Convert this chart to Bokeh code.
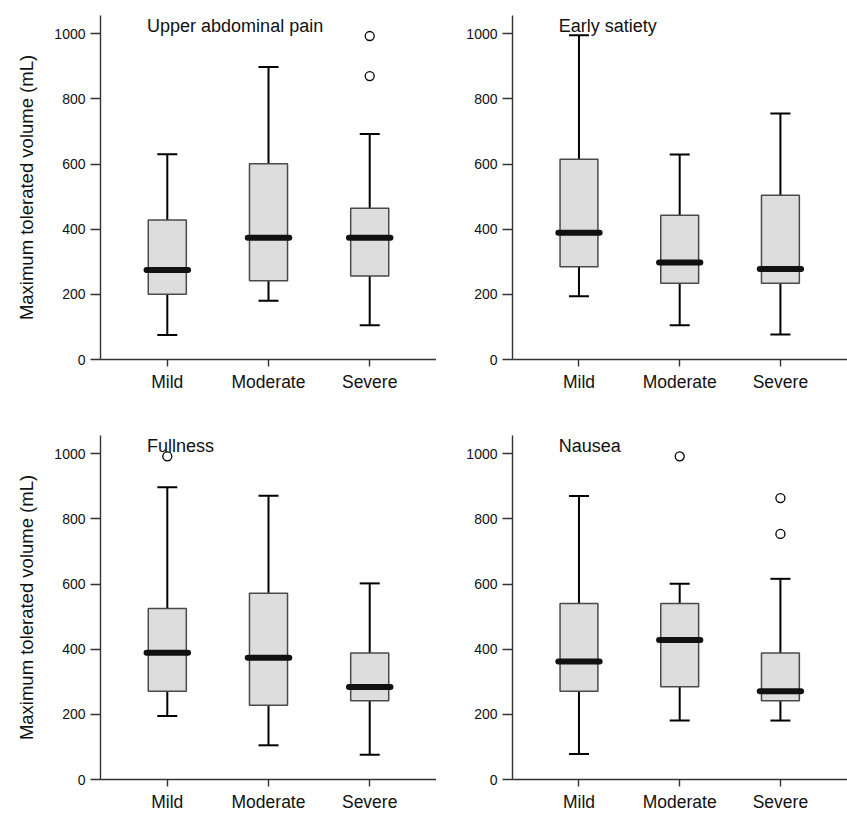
from bokeh.plotting import figure
from bokeh.layouts import column, row
from bokeh.models import Label, FixedTicker, Range1d
from bokeh.embed import file_html
from bokeh.resources import INLINE

categories = ["Mild", "Moderate", "Severe"]
y_ticks = [0, 200, 400, 600, 800, 1000]
y_label = "Maximum tolerated volume (mL)"

# Upper abdominal pain
pain_low = [75, 180, 105]
pain_q1 = [200, 242, 256]
pain_med = [275, 374, 374]
pain_q3 = [428, 601, 464]
pain_high = [630, 898, 692]
pain_out_cat = ["Severe", "Severe"]
pain_out_val = [993, 870]

# Early satiety
sat_low = [194, 105, 77]
sat_q1 = [285, 234, 234]
sat_med = [389, 298, 278]
sat_q3 = [615, 443, 504]
sat_high = [995, 629, 755]
sat_out_cat = []
sat_out_val = []

# Fullness
full_low = [195, 105, 76]
full_q1 = [271, 228, 242]
full_med = [389, 374, 284]
full_q3 = [525, 572, 388]
full_high = [897, 871, 602]
full_out_cat = ["Mild"]
full_out_val = [992]

# Nausea
nau_low = [78, 181, 181]
nau_q1 = [271, 285, 242]
nau_med = [362, 428, 271]
nau_q3 = [540, 540, 388]
nau_high = [870, 601, 616]
nau_out_cat = ["Moderate", "Severe", "Severe"]
nau_out_val = [992, 864, 754]

FONT = "Liberation Sans"
AXIS_COLOR = "#333333"


def make_panel(title, low, q1, med, q3, high, out_cat, out_val,
               left_panel, top_row):
    if left_panel:
        width, border_left, x_end = 436, 100, 2.66
    else:
        width, border_left, x_end = 411, 76, 2.666
    if top_row:
        height, border_top, border_bottom = 416, 15, 57
    else:
        height, border_top, border_bottom = 399, 19, 36

    p = figure(width=width, height=height, output_backend="svg",
               toolbar_location=None,
               x_range=Range1d(-0.66, x_end), y_range=Range1d(0, 1056),
               min_border_left=border_left, min_border_right=0,
               min_border_top=border_top, min_border_bottom=border_bottom)
    p.outline_line_color = None
    p.xgrid.visible = False
    p.ygrid.visible = False
    p.background_fill_color = "white"
    p.border_fill_color = "white"

    xs = list(range(len(categories)))
    half_med = 0.205
    # whiskers
    p.segment(x0=xs, y0=q3, x1=xs, y1=high, line_color="black", line_width=2)
    p.segment(x0=xs, y0=q1, x1=xs, y1=low, line_color="black", line_width=2)
    p.scatter(x=xs, y=high, marker="dash", size=20, line_color="black",
              line_width=2)
    p.scatter(x=xs, y=low, marker="dash", size=20, line_color="black",
              line_width=2)
    # boxes
    p.vbar(x=xs, bottom=q1, top=q3, width=0.376, fill_color="#dcdddc",
           line_color="#4a4a4a", line_width=1.5)
    # medians
    p.segment(x0=[x - half_med for x in xs], y0=med,
              x1=[x + half_med for x in xs], y1=med,
              line_color="#111111", line_width=6, line_cap="round")
    # outliers
    if out_val:
        ox = [categories.index(c) for c in out_cat]
        p.scatter(x=ox, y=out_val, marker="circle", size=9,
                  fill_color="white", line_color="black", line_width=1.3)

    # axes
    p.xaxis.ticker = FixedTicker(ticks=xs)
    p.xaxis.major_label_overrides = {i: c for i, c in enumerate(categories)}
    p.xaxis.major_tick_out = 7
    p.xaxis.major_tick_in = 0
    p.xaxis.minor_tick_line_color = None
    p.xaxis.major_label_text_font = FONT
    p.xaxis.major_label_text_font_size = "17.5px"
    p.xaxis.major_label_text_color = "#111111"
    p.xaxis.major_label_standoff = 5

    p.yaxis.ticker = FixedTicker(ticks=y_ticks)
    p.yaxis.major_tick_out = 10
    p.yaxis.major_tick_in = 0
    p.yaxis.minor_tick_line_color = None
    p.yaxis.major_label_text_font = FONT
    p.yaxis.major_label_text_font_size = "14px"
    p.yaxis.major_label_text_color = "#111111"
    p.yaxis.major_label_standoff = 5

    for ax in (p.xaxis, p.yaxis):
        ax.axis_line_color = AXIS_COLOR
        ax.axis_line_width = 1.4
        ax.major_tick_line_color = AXIS_COLOR
        ax.major_tick_line_width = 1.4

    if left_panel:
        p.yaxis.axis_label = y_label
        p.yaxis.axis_label_text_font = FONT
        p.yaxis.axis_label_text_font_size = "18.5px"
        p.yaxis.axis_label_text_font_style = "normal"
        p.yaxis.axis_label_text_color = "#111111"
        p.yaxis.axis_label_standoff = 14

    p.add_layout(Label(x=-0.2, y=1025, text=title, text_font=FONT,
                       text_font_size="18px", text_color="#111111",
                       text_align="left", text_baseline="alphabetic"))
    return p


p1 = make_panel("Upper abdominal pain", pain_low, pain_q1, pain_med, pain_q3,
                pain_high, pain_out_cat, pain_out_val, True, True)
p2 = make_panel("Early satiety", sat_low, sat_q1, sat_med, sat_q3,
                sat_high, sat_out_cat, sat_out_val, False, True)
p3 = make_panel("Fullness", full_low, full_q1, full_med, full_q3,
                full_high, full_out_cat, full_out_val, True, False)
p4 = make_panel("Nausea", nau_low, nau_q1, nau_med, nau_q3,
                nau_high, nau_out_cat, nau_out_val, False, False)

layout = column(row(p1, p2, spacing=0), row(p3, p4, spacing=0), spacing=0)

with open("out.html", "w") as f:
    f.write(file_html(layout, INLINE))
